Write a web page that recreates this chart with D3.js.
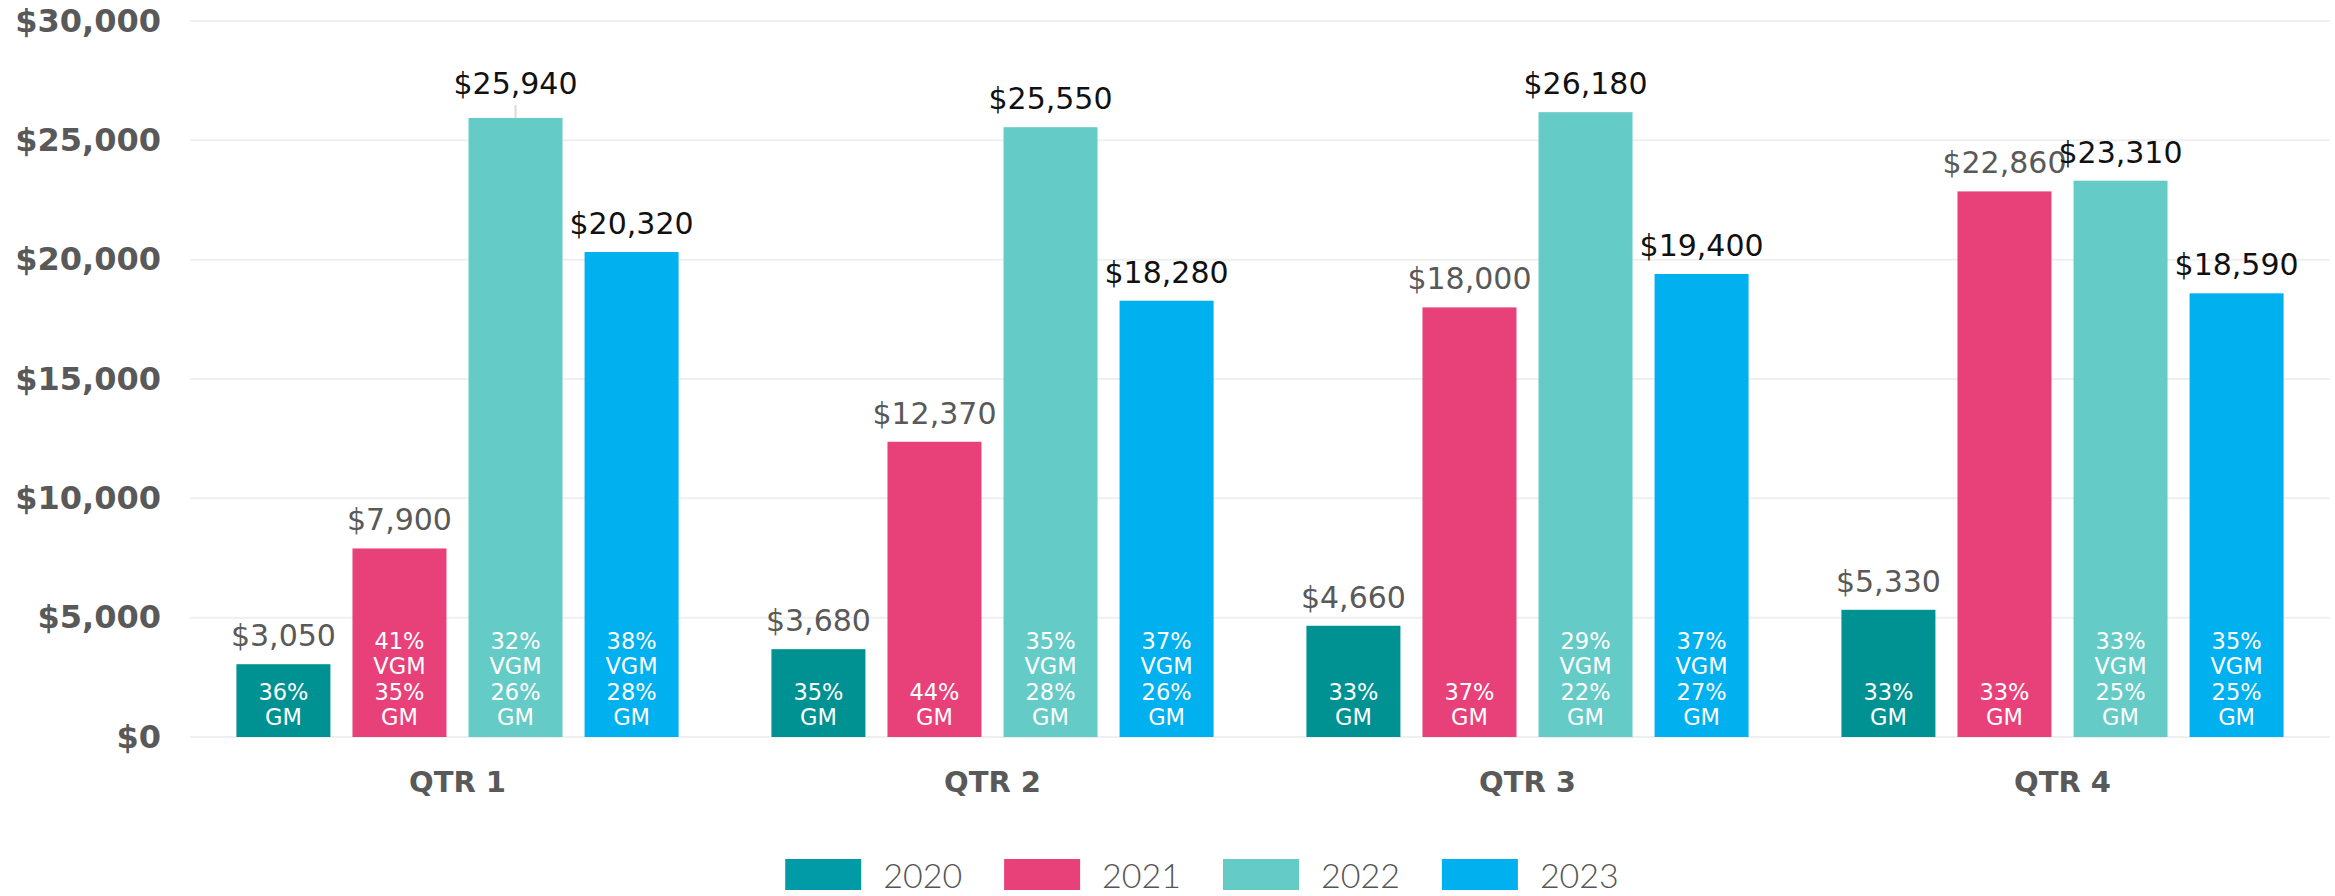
<!DOCTYPE html>
<html>
<head>
<meta charset="utf-8">
<script src="https://cdn.jsdelivr.net/npm/d3@7"></script>
<style>
  html, body { margin: 0; padding: 0; background: #fff; }
  svg { display: block; }
</style>
</head>
<body>
<div id="chart"></div>
<script>
// chart values
const quarters = ['QTR 1', 'QTR 2', 'QTR 3', 'QTR 4'];
const years = ['2020', '2021', '2022', '2023'];

const sales2020 = [3050, 3680, 4660, 5330];
const sales2021 = [7900, 12370, 18000, 22860];
const sales2022 = [25940, 25550, 26180, 23310];
const sales2023 = [20320, 18280, 19400, 18590];

// percent labels inside the bars (null = not shown)
const vgm2020 = [null, null, null, null];
const gm2020 = [36, 35, 33, 33];
const vgm2021 = [41, null, null, null];
const gm2021 = [35, 44, 37, 33];
const vgm2022 = [32, 35, 29, 33];
const gm2022 = [26, 28, 22, 25];
const vgm2023 = [38, 37, 37, 35];
const gm2023 = [28, 26, 27, 25];

const yTicks = [0, 5000, 10000, 15000, 20000, 25000, 30000];

const salesByYear = [sales2020, sales2021, sales2022, sales2023];
const vgmByYear = [vgm2020, vgm2021, vgm2022, vgm2023];
const gmByYear = [gm2020, gm2021, gm2022, gm2023];

const barColors = ['#009292', '#e8417a', '#65cbc7', '#00b0ef'];
const legendColors = ['#009ba6', '#e8417a', '#65cbc7', '#00b0ef'];

const data = [];
quarters.forEach((q, qi) => {
    years.forEach((yr, yi) => {
        data.push({
            quarter: q,
            year: yr,
            value: salesByYear[yi][qi],
            vgm: vgmByYear[yi][qi],
            gm: gmByYear[yi][qi]
        });
    });
});

const svgWidth = 2335;
const svgHeight = 896;
const margin = { top: 21, right: 5, bottom: 159, left: 190 };
const width = svgWidth - margin.left - margin.right;
const height = svgHeight - margin.top - margin.bottom;

const svg = d3.select('#chart')
    .append('svg')
    .attr('width', svgWidth)
    .attr('height', svgHeight);

const bounds = svg.append('g')
    .attr('transform', `translate(${margin.left}, ${margin.top})`);

const xScale = d3.scaleBand()
    .domain(quarters)
    .range([0, width])
    .padding(0);

const xInner = d3.scaleBand()
    .domain(years)
    .range([0, xScale.bandwidth()])
    .paddingInner(0.19)
    .paddingOuter(0.4);

const yScale = d3.scaleLinear()
    .domain([0, 30000])
    .range([height, 0]);

const color = d3.scaleOrdinal().domain(years).range(barColors);
const money = d => '$' + d3.format(',')(d);

// gridlines
bounds.append('g')
    .attr('class', 'grid')
    .selectAll('line')
    .data(yTicks)
    .join('line')
    .attr('x1', 0)
    .attr('x2', width)
    .attr('y1', d => yScale(d))
    .attr('y2', d => yScale(d))
    .attr('stroke', '#efefef')
    .attr('stroke-width', 2);

// y axis labels
const yAxisGroup = bounds.append('g')
    .attr('class', 'y axis')
    .attr('transform', 'translate(-29, 0)')
    .call(d3.axisLeft(yScale)
        .tickValues(yTicks)
        .tickSize(0)
        .tickPadding(0)
        .tickFormat(money));
yAxisGroup.select('.domain').remove();
yAxisGroup.selectAll('text')
    .attr('font-family', 'DejaVu Sans, sans-serif')
    .attr('font-weight', 'bold')
    .attr('font-size', 32)
    .attr('fill', '#595959');

// x axis labels
const xAxisGroup = bounds.append('g')
    .attr('class', 'x axis')
    .attr('transform', `translate(0, ${height})`)
    .call(d3.axisBottom(xScale).tickSize(0).tickPadding(0));
xAxisGroup.select('.domain').remove();
xAxisGroup.selectAll('text')
    .attr('dy', null)
    .attr('y', 55)
    .attr('font-family', 'DejaVu Sans, sans-serif')
    .attr('font-weight', 'bold')
    .attr('font-size', 29)
    .attr('fill', '#595959');

const barX = d => xScale(d.quarter) + xInner(d.year);
const barMid = d => barX(d) + xInner.bandwidth() / 2;

// bars
bounds.append('g')
    .selectAll('rect')
    .data(data)
    .join('rect')
    .attr('x', barX)
    .attr('y', d => yScale(d.value))
    .attr('width', xInner.bandwidth())
    .attr('height', d => height - yScale(d.value))
    .attr('fill', d => color(d.year));

// value labels above bars
const dark = d => d.year === '2022' || d.year === '2023';
const lifted = d => d.quarter === 'QTR 1' && d.year === '2022';

bounds.append('g')
    .selectAll('text')
    .data(data)
    .join('text')
    .attr('x', barMid)
    .attr('y', d => yScale(d.value) - (lifted(d) ? 24 : 18))
    .attr('text-anchor', 'middle')
    .attr('font-family', 'DejaVu Sans, sans-serif')
    .attr('font-size', 30)
    .attr('fill', d => dark(d) ? '#111' : '#595959')
    .text(d => money(d.value));

// little leader for the moved label
bounds.append('g')
    .selectAll('line')
    .data(data.filter(lifted))
    .join('line')
    .attr('x1', barMid)
    .attr('x2', barMid)
    .attr('y1', d => yScale(d.value) - 13)
    .attr('y2', d => yScale(d.value))
    .attr('stroke', '#d9d9d9')
    .attr('stroke-width', 2);

// percentage labels inside the bars
const lineHeight = 25.5;
const inner = bounds.append('g')
    .selectAll('text')
    .data(data)
    .join('text')
    .attr('text-anchor', 'middle')
    .attr('font-family', 'DejaVu Sans, sans-serif')
    .attr('font-size', 22.5)
    .attr('fill', '#fff');

inner.each(function (d) {
    const lines = [];
    if (d.vgm != null) lines.push(d.vgm + '%', 'VGM');
    lines.push(d.gm + '%', 'GM');
    const lastY = height - 12;
    d3.select(this)
        .selectAll('tspan')
        .data(lines)
        .join('tspan')
        .attr('x', barMid(d))
        .attr('y', (l, i) => lastY - (lines.length - 1 - i) * lineHeight)
        .text(l => l);
});

// legend
const legend = svg.append('g').attr('class', 'legend');
const swatchW = 76;
const swatchH = 31;
const textGap = 22;
const itemGap = 42;
const legendY = 859;

const items = legend.selectAll('g')
    .data(years)
    .join('g');

items.append('rect')
    .attr('width', swatchW)
    .attr('height', swatchH)
    .attr('y', legendY)
    .attr('fill', (d, i) => legendColors[i]);

items.append('text')
    .attr('x', swatchW + textGap)
    .attr('y', legendY + swatchH / 2)
    .attr('dominant-baseline', 'central')
    .attr('font-family', 'Lato, sans-serif')
    .attr('font-weight', 300)
    .attr('font-size', 34)
    .attr('fill', '#555')
    .text(d => d);

let cursor = 0;
items.each(function () {
    const g = d3.select(this);
    const tw = g.select('text').node().getComputedTextLength();
    g.attr('transform', `translate(${cursor}, 0)`);
    cursor += swatchW + textGap + tw + itemGap;
});
const legendWidth = cursor - itemGap;
legend.attr('transform', `translate(${1202 - legendWidth / 2}, 0)`);
</script>
</body>
</html>
